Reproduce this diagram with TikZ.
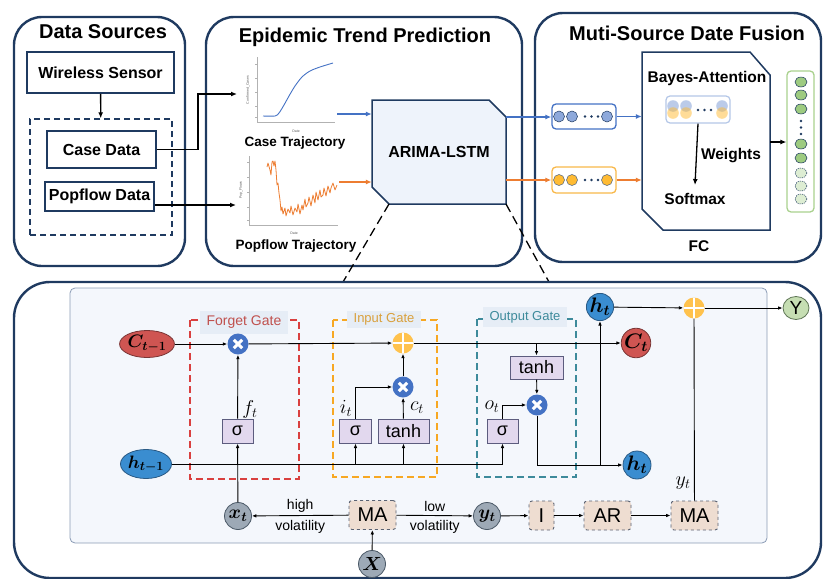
\RequirePackage{fix-cm}
\documentclass[tikz,border=0pt]{standalone}
\usepackage{fontspec}
\setmainfont{Liberation Sans}
\usetikzlibrary{arrows.meta,shapes.geometric,calc}
\definecolor{navy}{HTML}{1F3A60}
\definecolor{cblue}{HTML}{4472C4}
\definecolor{corange}{HTML}{ED7D31}
\definecolor{lightpanel}{HTML}{F4F7FC}
\definecolor{panelborder}{HTML}{8A9BB5}
\definecolor{labelbg}{HTML}{E6EDF6}
\definecolor{fred}{HTML}{D9403F}
\definecolor{fredtext}{HTML}{C0504D}
\definecolor{forange}{HTML}{F7A823}
\definecolor{forangetext}{HTML}{D9A03C}
\definecolor{fteal}{HTML}{3D8A9B}
\definecolor{sigfill}{HTML}{E2D8EE}
\definecolor{sigdraw}{HTML}{5C5C7E}
\definecolor{mafill}{HTML}{EEDDD1}
\definecolor{madraw}{HTML}{5A6272}
\definecolor{cred}{HTML}{CF5552}
\definecolor{credd}{HTML}{7A3535}
\definecolor{hblue}{HTML}{3A8DD0}
\definecolor{hblued}{HTML}{2A5A85}
\definecolor{xgray}{HTML}{9DA9B6}
\definecolor{xgrayd}{HTML}{4A5866}
\definecolor{ygreen}{HTML}{C6DEB3}
\definecolor{ygreend}{HTML}{5E7555}
\definecolor{multblue}{HTML}{4472C4}
\definecolor{plusgold}{HTML}{FFC24D}
\definecolor{vblue}{HTML}{8EA9DB}
\definecolor{vorange}{HTML}{FFBB33}
\definecolor{oborder}{HTML}{F8B84A}
\definecolor{ggreen}{HTML}{9DCB80}
\definecolor{gborder}{HTML}{A9D18E}
\definecolor{attborder}{HTML}{B4C7E7}
\definecolor{arimafill}{HTML}{EEF3FB}
\tikzset{
  panel/.style={draw=navy, line width=2.4pt, rounded corners=28pt},
  ttl/.style={font=\bfseries\fontsize{20}{24}\selectfont, inner sep=0},
  dbox/.style={draw=navy, line width=1.5pt, font=\bfseries\fontsize{16}{19}\selectfont, inner sep=0},
  lab/.style={font=\bfseries\fontsize{15.5}{18}\selectfont, inner sep=0},
  tlab/.style={font=\bfseries\fontsize{13.5}{16}\selectfont, inner sep=0},
  conn/.style={-{Latex[length=6pt,width=5pt]}, line width=1.3pt},
  lconn/.style={-{Latex[length=4.5pt,width=3.6pt]}, line width=0.9pt},
  mult/.style={circle, fill=multblue, minimum size=21, inner sep=0, path picture={
    \draw[white, line width=3pt] ([shift={(-4.2pt,-4.2pt)}]path picture bounding box.center) -- ([shift={(4.2pt,4.2pt)}]path picture bounding box.center);
    \draw[white, line width=3pt] ([shift={(-4.2pt,4.2pt)}]path picture bounding box.center) -- ([shift={(4.2pt,-4.2pt)}]path picture bounding box.center);}},
  plusn/.style={circle, fill=plusgold, minimum size=21, inner sep=0, path picture={
    \draw[white, line width=2.8pt] ([xshift=-11pt]path picture bounding box.center) -- ([xshift=11pt]path picture bounding box.center);
    \draw[white, line width=2.8pt] ([yshift=-11pt]path picture bounding box.center) -- ([yshift=11pt]path picture bounding box.center);}},
  sig/.style={draw=sigdraw, fill=sigfill, line width=1pt, minimum height=24, inner sep=0, font=\fontsize{18}{20}\selectfont},
  arbox/.style={draw=madraw, dashed, fill=mafill, rounded corners=3pt, line width=0.9pt, minimum height=29, inner sep=0, font=\fontsize{20}{22}\selectfont},
  gatelab/.style={fill=labelbg, inner sep=0},
  gatebox/.style={dashed, line width=1.6pt, dash pattern=on 7pt off 4pt},
  redv/.style={ellipse, fill=cred, draw=credd, line width=0.8pt, inner sep=0, font=\fontsize{18}{20}\selectfont\boldmath},
  bluev/.style={ellipse, fill=hblue, draw=hblued, line width=0.8pt, inner sep=0, font=\fontsize{18}{20}\selectfont\boldmath},
  bigv/.style={font=\fontsize{21}{23}\selectfont\boldmath},
  grayv/.style={circle, fill=xgray, draw=xgrayd, line width=0.8pt, minimum size=27, inner sep=0, font=\fontsize{19}{21}\selectfont\boldmath},
  mlab/.style={inner sep=0, font=\fontsize{20}{22}\selectfont},
  smalltxt/.style={inner sep=0, font=\fontsize{14}{16}\selectfont},
  vcirc/.style={fill=vblue, draw=navy, line width=0.5pt},
  ocirc/.style={fill=vorange, draw=navy!80, line width=0.5pt},
}
\begin{document}
\begin{tikzpicture}[x=1pt,y=-1pt]
\useasboundingbox (0,0) rectangle (823,579);
% ---------- top panels
\draw[panel] (14,17) rectangle (185,266);
\draw[panel] (206,17) rectangle (522,266);
\draw[panel] (535,13) rectangle (821,262);
\node[ttl] (t1) at (103,32) {Data Sources};
\node[ttl] (t2) at (365,37) {Epidemic Trend Prediction};
\node[ttl] (t3) at (687,33) {Muti-Source Date Fusion};
% ---------- data sources
\node[dbox, minimum width=147, minimum height=41] (ws) at (100.5,72.5) {Wireless Sensor};
\node[draw=navy, line width=1.4pt, dash pattern=on 6pt off 4pt, minimum width=142, minimum height=116, inner sep=0] (dsb) at (101,177) {};
\node[dbox, minimum width=109, minimum height=37] (case) at (101.5,149.5) {Case Data};
\node[dbox, minimum width=109, minimum height=29] (pop) at (99.5,196.5) {Popflow Data};
\draw[conn] (ws) -- (dsb);
\coordinate (cin) at (237,94);
\coordinate (pin) at (236,205);
\draw[conn] (case.east) -- (198,149.5) |- (cin);
\draw[conn] (pop.east |- pin) -- (pin);
% ---------- charts
\draw[gray!60, line width=0.4pt] (257,57) -- (257,122) -- (335,122);
\foreach \yy in {64,78,92,106,117} \draw[gray!60, line width=0.4pt] (255,\yy) -- (257,\yy);
\node[inner sep=0, font=\fontsize{3.5}{4}\selectfont, gray!70!black] (cdate) at (296,131) {Date};
\node[inner sep=0, font=\fontsize{3.5}{4}\selectfont, gray!70!black, rotate=90] (cyl) at (248,90) {Confirmed\_Cases};
\draw[cblue, line width=0.9pt] plot[smooth] coordinates {(263,116) (275,116) (279,113) (284,105) (289,96) (295,86) (302,77) (310,71) (320,67) (333,63)};
\node[tlab] (ctr) at (295,143) {Case Trajectory};
\draw[gray!60, line width=0.4pt] (249,156) -- (249,225) -- (338,225);
\foreach \yy in {162,177,192,207,220} \draw[gray!60, line width=0.4pt] (247,\yy) -- (249,\yy);
\node[inner sep=0, font=\fontsize{3.5}{4}\selectfont, gray!70!black] (pdate) at (294,233) {Date};
\node[inner sep=0, font=\fontsize{3.5}{4}\selectfont, gray!70!black, rotate=90] (pyl) at (241,190) {Pop\_Flows};
\draw[corange, line width=0.8pt, line join=round] plot coordinates {(267,167) (268,163) (270,170) (271,175) (272,162) (273,161) (274,166) (275,161) (276,170) (277,185) (278,183) (279,193) (280,200) (281,211) (282,207) (283,214) (285,208) (286,216) (288,209) (290,213) (291,206) (293,215) (295,208) (297,212) (298,204) (300,214) (302,205) (303,210) (305,199) (306,207) (308,203) (309,197) (311,206) (313,195) (315,203) (316,192) (318,200) (320,190) (321,197) (323,195) (324,188) (326,196) (328,186) (330,193) (331,188) (333,183) (335,190) (337,185)};
\node[tlab] (ptr) at (296,246) {Popflow Trajectory};
% ---------- ARIMA-LSTM
\draw[navy, fill=arimafill, line width=1.5pt] (372,100) -- (489,100) -- (506,117) -- (506,204) -- (389,204) -- (372,187) -- cycle;
\node[inner sep=0, minimum width=134, minimum height=104, font=\bfseries\fontsize{16}{19}\selectfont] (arima) at (439,152) {ARIMA-LSTM};
\coordinate (cbin) at (337,114);
\coordinate (coin) at (339,182);
\draw[cblue, conn, line width=1.5pt] (cbin) -- (cbin -| arima.west);
\draw[corange, conn, line width=1.5pt] (coin) -- (coin -| arima.west);
% zoom lines
\coordinate (zl1) at (389,204);
\coordinate (zl2) at (506,204);
\coordinate (zl3) at (343,282);
\coordinate (zl4) at (549,282);
\draw[line width=1.3pt, dash pattern=on 9pt off 5pt] (zl1) -- (zl3);
\draw[line width=1.3pt, dash pattern=on 9pt off 5pt] (zl2) -- (zl4);
% ---------- fusion
\node[draw=cblue, line width=1.3pt, rounded corners=4pt, minimum width=64, minimum height=25, inner sep=0] (vb) at (584,116.5) {};
\node[draw=oborder, line width=1.3pt, rounded corners=4pt, minimum width=64, minimum height=26, inner sep=0] (vo) at (584,180) {};
\foreach \xx in {559,572,607} {\draw[vcirc] (\xx,116.5) circle (5.5); \draw[ocirc] (\xx,180) circle (5.5);}
\foreach \xx in {585,591.5,598} {\fill[navy] (\xx,116.5) circle (1.3); \fill[navy] (\xx,180) circle (1.3);}
\draw[cblue, conn, line width=1.3pt] (506,117) -- (vb.west |- 506,117);
\draw[corange, conn, line width=1.3pt] (506,180) -- (vo.west |- 506,180);
\draw[navy, line width=1.5pt, fill=white] (642,52) -- (750,52) -- (770,75) -- (770,230) -- (663,230) -- (642,209) -- cycle;
\node[inner sep=0, minimum width=128, minimum height=178] (fc) at (706,141) {};
\draw[cblue, conn, line width=1.3pt] (vb.east) -- (vb.east -| fc.west);
\draw[corange, conn, line width=1.3pt] (vo.east) -- (vo.east -| fc.west);
\node[lab] (bayes) at (707,78) {Bayes-Attention};
\node[draw=attborder, line width=1.2pt, rounded corners=4pt, minimum width=64, minimum height=27, inner sep=0] (att) at (698,109.5) {};
\foreach \xx in {673,686,722} {\fill[vblue, opacity=0.6] (\xx,106) circle (5.8); \fill[vorange, opacity=0.5] (\xx,113) circle (5.8);}
\foreach \xx in {698,704.5,711} {\fill[navy] (\xx,110) circle (1.3);}
\node[lab] (soft) at (695,199) {Softmax};
\draw[conn] (att.south) -- (soft.north |- 0,185);
\node[lab] (wts) at (731,156) {Weights};
\node[lab] (fcl) at (699,246) {FC};
\node[draw=gborder, line width=1.3pt, rounded corners=4pt, minimum width=27, minimum height=141, inner sep=0] (gb) at (800.5,141.5) {};
\draw[conn] (fc.east |- 0,142) -- (gb.west |- 0,142);
\foreach \yy in {82,95,109,144,158} \draw[fill=ggreen, draw=navy, line width=0.5pt] (801,\yy) ellipse (6 and 5);
\foreach \yy in {173,186,199} \draw[fill=ggreen!35, draw=navy, line width=0.5pt, dash pattern=on 1.2pt off 1pt] (801,\yy) ellipse (6 and 5);
\foreach \yy in {121,127.5,134} \fill[navy] (801,\yy) circle (1.3);
% ---------- bottom panel
\draw[panel, rounded corners=36pt] (14,282) rectangle (821,578);
\draw[fill=lightpanel, draw=panelborder, line width=0.8pt, rounded corners=5pt] (70,288) rectangle (767,543);
% gate boxes
\draw[gatebox, fred] (190,320) rectangle (299,479);
\draw[gatebox, forange] (333,320) rectangle (437,477);
\draw[gatebox, fteal] (477,319) rectangle (576,477);
\node[gatelab, minimum width=88, minimum height=23, text=fredtext, font=\fontsize{14}{16}\selectfont] (fgl) at (244,322.5) {Forget Gate};
\node[gatelab, minimum width=74, minimum height=17, text=forangetext, font=\fontsize{13}{15}\selectfont] (igl) at (384,319) {Input Gate};
\node[gatelab, minimum width=84, minimum height=20, text=fteal, font=\fontsize{13}{15}\selectfont] (ogl) at (525,317) {Output Gate};
% nodes
\node[redv, minimum width=40, minimum height=27] (cprev) at (147,344) {$C_{t-1}$};
\node[bluev, minimum width=41, minimum height=29] (hprev) at (146,464) {$h_{t-1}$};
\node[mult] (multf) at (238,344) {};
\node[sig, minimum width=31] (sigf) at (237.5,431) {σ};
\node[plusn] (plusi) at (403,343) {};
\node[mult] (multi) at (403,387) {};
\node[sig, minimum width=32] (sigi) at (355.5,431) {σ};
\node[sig, minimum width=51] (tanhi) at (403.5,431) {tanh};
\node[sig, minimum width=53, minimum height=23] (tanho) at (536.5,367.5) {tanh};
\node[mult] (multo) at (537,405) {};
\node[sig, minimum width=31] (sigo) at (502.5,431) {σ};
\node[bluev, bigv, circle, minimum size=27] (htt) at (600,307) {$h_t$};
\node[redv, bigv, circle, minimum size=28] (ct) at (636,343) {$C_t$};
\node[bluev, bigv, circle, minimum size=28] (htb) at (637,465) {$h_t$};
\node[plusn] (plust) at (694,308) {};
\node[ellipse, fill=ygreen, draw=ygreend, line width=0.8pt, minimum width=26, minimum height=23, inner sep=0, font=\fontsize{19}{21}\selectfont] (yout) at (796,308) {Y};
\node[mlab] (ftl) at (250,409) {$f_t$};
\node[mlab] (itl) at (346,408) {$i_t$};
\node[mlab] (ctl) at (417,408) {$c_t$};
\node[mlab] (otl) at (492,407) {$o_t$};
\node[mlab] (ytl) at (683,483) {$y_t$};
% bottom row
\node[grayv] (xt) at (238,516) {$x_t$};
\node[arbox, minimum width=47] (ma1) at (372.5,515) {MA};
\node[grayv] (ytc) at (487,516) {$y_t$};
\node[arbox, minimum width=25] (ib) at (541.5,515.5) {I};
\node[arbox, minimum width=47] (ar) at (607.5,515.5) {AR};
\node[arbox, minimum width=47] (ma2) at (694.5,515.5) {MA};
\node[grayv] (xin) at (372,564) {$X$};
% connectors
\draw[lconn] (cprev) -- (multf);
\draw[lconn] (multf) -- (plusi);
\draw[lconn] (plusi) -- (ct);
\draw[lconn] (xt) -- (sigf);
\draw[lconn] (sigf) -- (multf);
\draw[lconn] (hprev) -- (sigo.south |- hprev) -- (sigo.south);
\draw[lconn] (sigi.south |- hprev) -- (sigi.south);
\draw[lconn] (tanhi.south |- hprev) -- (tanhi.south);
\draw[lconn] (sigi.north) |- (multi);
\draw[lconn] (tanhi) -- (multi);
\draw[lconn] (multi) -- (plusi);
\draw[lconn] (tanho.north |- ct) -- (tanho.north);
\draw[lconn] (tanho) -- (multo);
\draw[lconn] (sigo.north) |- (multo);
\draw[lconn] (multo) |- (htb);
\draw[lconn] (htt.south |- htb) -- (htt);
\draw[lconn] (htt) -- (plust);
\draw[lconn] (plust) -- (yout);
\draw[lconn] (ma1) -- (xt) node[midway, above=3pt, smalltxt] {high} node[midway, below=4pt, smalltxt] {volatility};
\draw[lconn] (ma1) -- (ytc) node[midway, above=3pt, smalltxt] {low} node[midway, below=4pt, smalltxt] {volatility};
\draw[lconn] (ytc) -- (ib);
\draw[lconn] (ib) -- (ar);
\draw[lconn] (ar) -- (ma2);
\draw[line width=0.9pt] (ma2) -- (plust);
\draw[lconn] (xin) -- (ma1);
\end{tikzpicture}
\end{document}
